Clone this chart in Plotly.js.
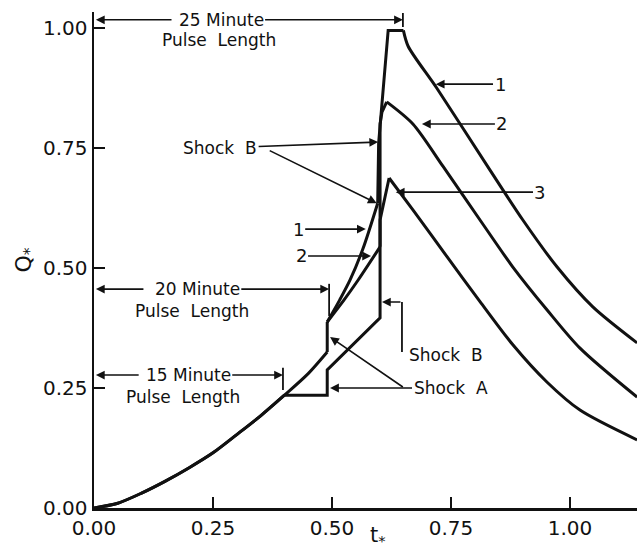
<!DOCTYPE html>
<html>
<head>
<meta charset="utf-8">
<script src="https://cdn.plot.ly/plotly-3.0.1.min.js"></script>
<style>html,body{margin:0;padding:0;background:#fff;}#chart{width:637px;height:549px;}</style>
</head>
<body>
<div id="chart"></div>
<script>
// Shared rising portion (feed front) before the pulses end
const baseT = [0, 0.05, 0.10, 0.15, 0.20, 0.25, 0.30, 0.35, 0.40, 0.45, 0.49];
const baseQ = [0, 0.010, 0.031, 0.056, 0.084, 0.115, 0.153, 0.192, 0.235, 0.28, 0.325];

// Curve 1 : 25 minute pulse
const c1RiseT = [0.49, 0.516, 0.538, 0.565, 0.596];
const c1RiseQ = [0.3875, 0.433, 0.475, 0.54, 0.635];
const c1TopT = [0.596, 0.598, 0.618, 0.650];
const c1TopQ = [0.635, 0.76, 0.995, 0.995];
const c1FallT = [0.650, 0.66, 0.72, 0.832, 0.901, 0.973, 1.048, 1.141];
const c1FallQ = [0.995, 0.962, 0.875, 0.704, 0.60, 0.502, 0.419, 0.344];

// Curve 2 : 20 minute pulse
const c2RiseT = [0.49, 0.525, 0.555, 0.601];
const c2RiseQ = [0.3875, 0.433, 0.475, 0.544];
const c2TopT = [0.601, 0.601, 0.605, 0.615];
const c2TopQ = [0.544, 0.80, 0.825, 0.846];
const c2FallT = [0.615, 0.67, 0.733, 0.811, 0.880, 0.952, 1.021, 1.141];
const c2FallQ = [0.846, 0.80, 0.712, 0.60, 0.502, 0.4125, 0.333, 0.231];

// Curve 3 : 15 minute pulse
const pulseEnd3 = 0.40;
const c3MidT = [0.40, 0.49, 0.49, 0.601, 0.601, 0.607, 0.62];
const c3MidQ = [0.235, 0.235, 0.2875, 0.396, 0.60, 0.627, 0.6875];
const c3FallT = [0.62, 0.67, 0.742, 0.811, 0.880, 0.952, 1.021, 1.141];
const c3FallQ = [0.6875, 0.621, 0.523, 0.43, 0.34, 0.262, 0.204, 0.142];

const tickVals = [0, 0.25, 0.5, 0.75, 1.0];
const tickText = ['0.00', '0.25', '0.50', '0.75', '1.00'];

const nBase3 = baseT.indexOf(pulseEnd3) + 1;
const last = a => a[a.length - 1];

function part(x, y, shape, name) {
  return {x: x, y: y, mode: 'lines', name: name, hoverinfo: 'skip',
          line: {color: '#111', width: 3, shape: shape, smoothing: 0.8}};
}
// Shock A jump at the end of the shared front (built from neighbouring arrays)
const shockAT = [last(baseT), c1RiseT[0]];
const shockAQ = [last(baseQ), c1RiseQ[0]];

const traces = [
  part(baseT, baseQ, 'spline', '1'),
  part(shockAT, shockAQ, 'linear', '1'),
  part(c1RiseT, c1RiseQ, 'spline', '1'),
  part(c1TopT, c1TopQ, 'linear', '1'),
  part(c1FallT, c1FallQ, 'spline', '1'),
  part(c2RiseT, c2RiseQ, 'spline', '2'),
  part(c2TopT, c2TopQ, 'linear', '2'),
  part(c2FallT, c2FallQ, 'spline', '2'),
  part(baseT.slice(0, nBase3), baseQ.slice(0, nBase3), 'spline', '3'),
  part(c3MidT, c3MidQ, 'linear', '3'),
  part(c3FallT, c3FallQ, 'spline', '3')
];

const F = 'DejaVu Sans, Arial, sans-serif';
const ARW = {showarrow: true, arrowhead: 2, arrowsize: 1.1, arrowwidth: 1.6, arrowcolor: '#111',
             axref: 'x', ayref: 'y', xref: 'x', yref: 'y'};
function txt(x, y, text, size, xanchor) {
  return {x: x, y: y, xref: 'x', yref: 'y', text: text, showarrow: false,
          font: {family: F, size: size || 17, color: '#111'},
          xanchor: xanchor || 'center', yanchor: 'middle'};
}
// label text at (ax, ay) with its arrow pointing to (x, y)
function lab(text, ax, ay, x, y, size) {
  return Object.assign({}, ARW, {text: text, x: x, y: y, ax: ax, ay: ay, standoff: 0,
          borderpad: 1, font: {family: F, size: size || 17, color: '#111'}});
}
function arr(x, y, ax, ay) {
  return Object.assign({}, ARW, {text: '', x: x, y: y, ax: ax, ay: ay});
}
function seg(x0, y0, x1, y1) {
  return {type: 'line', xref: 'x', yref: 'y', x0: x0, y0: y0, x1: x1, y1: y1,
          line: {color: '#111', width: 1.8}};
}

const annotations = [
  lab('25 Minute', 0.267, 1.017, 0.649, 1.017), arr(0.004, 1.017, 0.166, 1.017),
  txt(0.263, 0.975, 'Pulse\u00a0 Length', 17),
  lab('20 Minute', 0.217, 0.456, 0.494, 0.456), arr(0.004, 0.456, 0.107, 0.456),
  txt(0.206, 0.410, 'Pulse\u00a0 Length', 17),
  lab('15 Minute', 0.198, 0.277, 0.397, 0.277), arr(0.004, 0.277, 0.097, 0.277),
  txt(0.187, 0.231, 'Pulse\u00a0 Length', 17),
  lab('Shock\u00a0 B', 0.265, 0.75, 0.597, 0.7625), arr(0.594, 0.635, 0.366, 0.746),
  lab('1', 0.429, 0.581, 0.571, 0.581, 18),
  lab('2', 0.435, 0.525, 0.582, 0.525, 18),
  lab('1', 0.853, 0.883, 0.718, 0.883, 18),
  lab('2', 0.857, 0.80, 0.689, 0.80, 18),
  lab('3', 0.937, 0.658, 0.634, 0.658, 18),
  txt(0.658, 0.319, 'Shock\u00a0 B', 17, 'left'),
  arr(0.605, 0.429, 0.647, 0.429),
  lab('Shock\u00a0 A', 0.749, 0.25, 0.496, 0.25), arr(0.496, 0.356, 0.652, 0.25),
  {x: 0.523, y: -0.057, xref: 'paper', yref: 'paper', text: 't<sub>*</sub>', showarrow: false,
   font: {family: F, size: 21, color: '#111'}, xanchor: 'center', yanchor: 'middle'}
];

const shapes = [
  seg(0.649, 1.002, 0.649, 1.031),
  seg(0.494, 0.40, 0.494, 0.467),
  seg(0.397, 0.246, 0.397, 0.292),
  seg(0.647, 0.429, 0.647, 0.325)
];

const layout = {
  width: 637, height: 549,
  margin: {l: 94, r: 0, t: 12, b: 41},
  paper_bgcolor: '#fff', plot_bgcolor: '#fff',
  showlegend: false,
  font: {family: F, color: '#111'},
  xaxis: {
    range: [0, 1.1408], tickvals: tickVals, ticktext: tickText,
    ticks: 'inside', ticklen: 11, tickwidth: 2, tickcolor: '#111',
    showline: true, linewidth: 2.5, linecolor: '#111',
    showgrid: false, zeroline: false,
    tickfont: {family: F, size: 20, color: '#111'}
  },
  yaxis: {
    range: [0, 1.0333], tickvals: tickVals, ticktext: tickText,
    ticks: 'inside', ticklen: 11, tickwidth: 2, tickcolor: '#111',
    showline: true, linewidth: 2.5, linecolor: '#111',
    showgrid: false, zeroline: false,
    tickfont: {family: F, size: 20, color: '#111'},
    title: {text: 'Q<sub>*</sub>', font: {family: F, size: 22, color: '#111'}, standoff: 6}
  },
  annotations: annotations,
  shapes: shapes
};

Plotly.newPlot('chart', traces, layout, {displayModeBar: false, staticPlot: true});
</script>
</body>
</html>
